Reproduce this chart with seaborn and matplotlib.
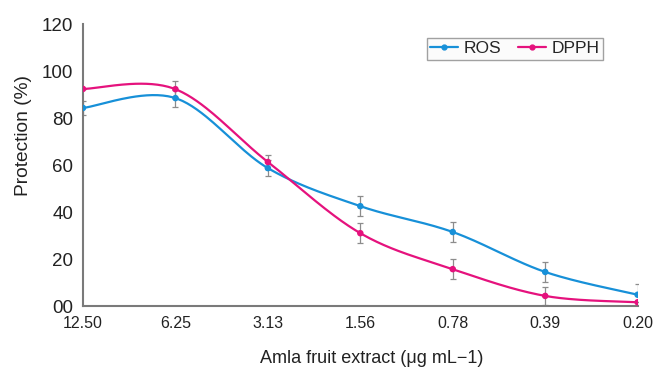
import numpy as np
import pandas as pd
import matplotlib.pyplot as plt
import seaborn as sns
from matplotlib.lines import Line2D

# === data ===
concentrations = ["12.50", "6.25", "3.13", "1.56", "0.78", "0.39", "0.20"]
ros = [84.3, 88.5, 58.7, 42.5, 31.5, 14.5, 4.8]
ros_err = [3.0, 3.6, 3.4, 4.2, 4.2, 4.3, 4.5]
dpph = [92.4, 92.3, 61.3, 31.0, 15.7, 4.3, 1.6]
dpph_err = [0.0, 3.5, 3.0, 4.2, 4.2, 4.0, 0.0]

ros_color = "#1790d8"
dpph_color = "#e5127d"
err_color = "#8c8c8c"
axis_color = "#7a7a7a"
text_color = "#222222"

sns.set_theme(style="white")
plt.rcParams["font.family"] = ["Liberation Sans", "DejaVu Sans"]


def smooth(y, n=40):
    # Excel-style smoothed line (cubic bezier, catmull-rom control points)
    y = np.asarray(y, dtype=float)
    x = np.arange(len(y), dtype=float)
    pts = np.column_stack([x, y])
    out = []
    for i in range(len(pts) - 1):
        p0 = pts[max(i - 1, 0)]
        p1 = pts[i]
        p2 = pts[i + 1]
        p3 = pts[min(i + 2, len(pts) - 1)]
        c1 = p1 + (p2 - p0) / 6
        c2 = p2 - (p3 - p1) / 6
        t = np.linspace(0, 1, n)[:, None]
        seg = ((1 - t) ** 3) * p1 + 3 * ((1 - t) ** 2) * t * c1 + 3 * (1 - t) * t ** 2 * c2 + t ** 3 * p2
        out.append(seg if i == 0 else seg[1:])
    return np.vstack(out)


df = pd.DataFrame({
    "pos": np.arange(len(concentrations)),
    "ROS": ros,
    "DPPH": dpph,
})

fig = plt.figure(figsize=(6.56, 3.69), dpi=100)
ax = fig.add_axes([0.1265, 0.1707, 0.8455, 0.764])

for name, vals, err, col in [("ROS", ros, ros_err, ros_color), ("DPPH", dpph, dpph_err, dpph_color)]:
    ax.errorbar(df["pos"], vals, yerr=err, fmt="none", ecolor=err_color,
                elinewidth=0.9, capsize=2.2, capthick=0.9, zorder=2)
    curve = smooth(vals)
    sns.lineplot(x=curve[:, 0], y=curve[:, 1], ax=ax, color=col, lw=1.6,
                 sort=False, estimator=None, zorder=3)
    sns.scatterplot(data=df, x="pos", y=name, ax=ax, color=col, s=22,
                    edgecolor="none", zorder=4)

ax.set_xlim(0, 6)
ax.set_ylim(0, 120)
ax.set_xticks(df["pos"])
ax.set_xticklabels(concentrations)
ax.set_yticks(range(0, 121, 20))
ax.set_yticklabels(["00"] + [str(v) for v in range(20, 121, 20)])

for s in ["top", "right"]:
    ax.spines[s].set_visible(False)
for s in ["left", "bottom"]:
    ax.spines[s].set_color(axis_color)
    ax.spines[s].set_linewidth(1.5)

ax.tick_params(axis="both", which="major", direction="out", length=5, width=1.2,
               color=axis_color, labelcolor=text_color)
ax.tick_params(axis="x", labelsize=11.5, pad=2)
ax.tick_params(axis="y", labelsize=13.5, pad=2)

ax.set_ylabel("Protection (%)", fontsize=13.8, color=text_color, va="center")
ax.yaxis.set_label_coords(-0.108, 0.606)
ax.set_xlabel("Amla fruit extract (μg mL−1)", fontsize=13, color=text_color, va="center")
ax.xaxis.set_label_coords(0.52, -0.186)

handles = [
    Line2D([0], [0], color=ros_color, lw=1.6, marker="o", markersize=3.5),
    Line2D([0], [0], color=dpph_color, lw=1.6, marker="o", markersize=3.5),
]
leg = ax.legend(handles, ["ROS", "DPPH"], loc="upper left", bbox_to_anchor=(0.62, 0.952),
                ncol=2, frameon=True, fancybox=False, fontsize=12.5, handlelength=1.6,
                handletextpad=0.3, columnspacing=1.0, borderpad=0.2, borderaxespad=0)
leg.get_frame().set_edgecolor("#8a8a8a")
leg.get_frame().set_linewidth(1.0)
leg.get_frame().set_facecolor("#fafafa")

fig.savefig("out.png", dpi=100)
